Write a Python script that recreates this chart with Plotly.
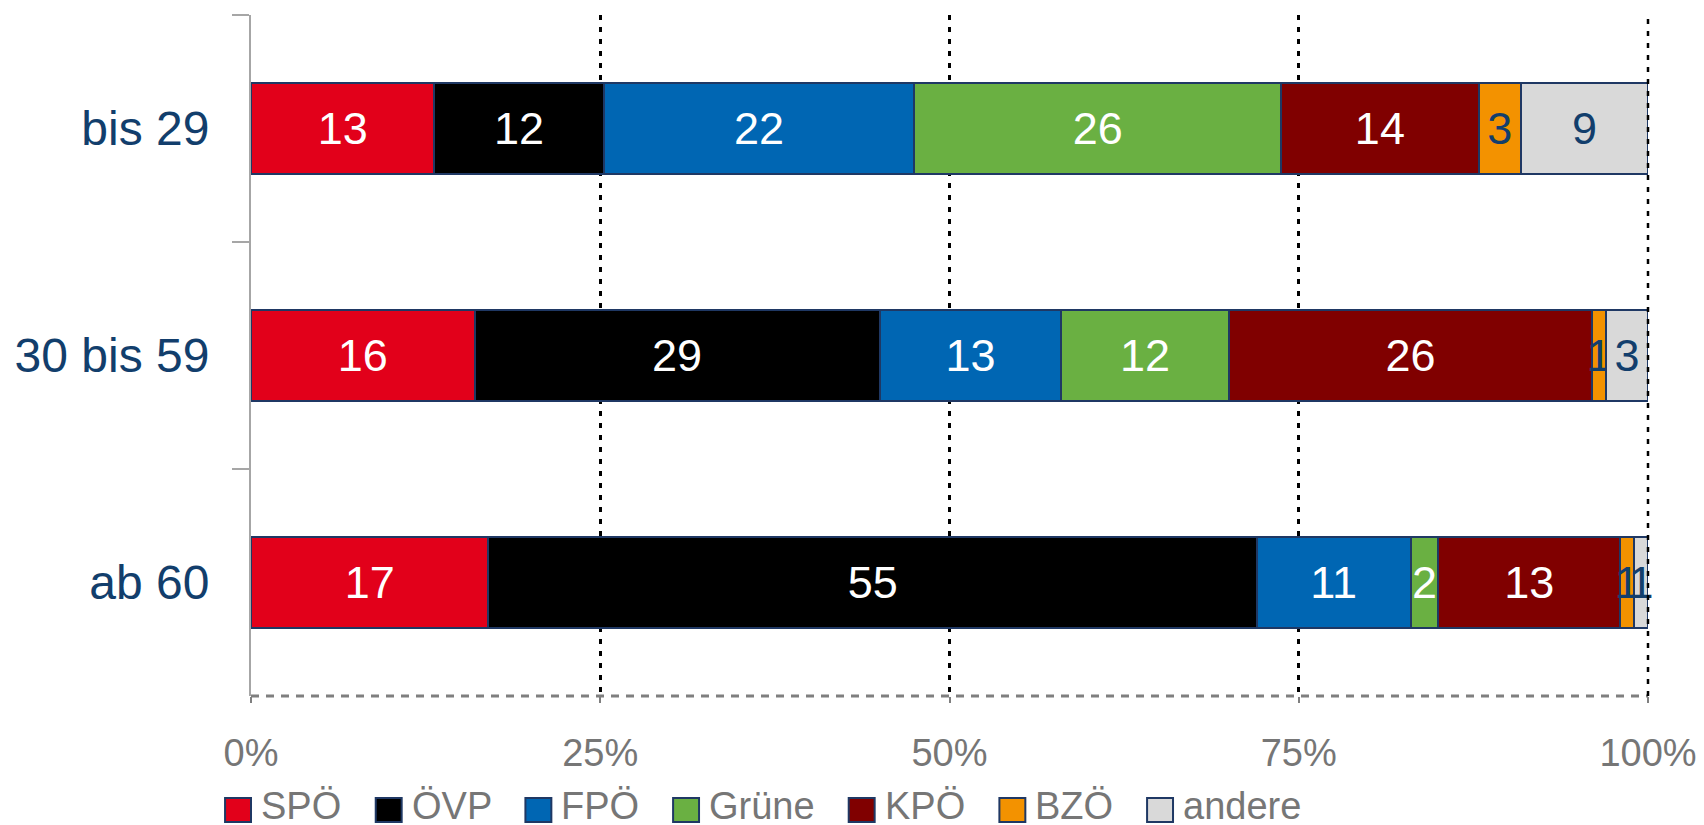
import plotly.graph_objects as go

# Age groups (top to bottom) and party shares in percent
age_groups = ['bis 29', '30 bis 59', 'ab 60']
parties = ['SPÖ', 'ÖVP', 'FPÖ', 'Grüne', 'KPÖ', 'BZÖ', 'andere']

spoe = [13, 16, 17]
oevp = [12, 29, 55]
fpoe = [22, 13, 11]
gruene = [26, 12, 2]
kpoe = [14, 26, 13]
bzoe = [3, 1, 1]
andere = [9, 3, 1]

party_values = [spoe, oevp, fpoe, gruene, kpoe, bzoe, andere]
colors = ['#E2001A', '#000000', '#0066B3', '#6AB042', '#800000', '#F39200', '#D9D9D9']
NAVY = '#123E6C'
label_colors = ['white', 'white', 'white', 'white', 'white', NAVY, NAVY]

x_ticks = [0, 25, 50, 75, 100]
x_ticktext = ['0%', '25%', '50%', '75%', '100%']

FONT = 'Arial, Liberation Sans, sans-serif'
# the page body has an 8px margin, so the figure is a bit smaller than the window
OFF = 8
W, H = 1704 - OFF, 825 - OFF
M_L, M_R, M_T, M_B = 242, 54, 7, 129
PW, PH = W - M_L - M_R, H - M_T - M_B


# page pixel -> paper helpers (used for the hand-drawn legend)
def px_x(px):
    return (px - OFF - M_L) / PW


def px_y(py):
    return (OFF + H - M_B - py) / PH


fig = go.Figure()

for name, vals, col, tcol in zip(parties, party_values, colors, label_colors):
    fig.add_trace(go.Bar(
        y=age_groups,
        x=vals,
        name=name,
        orientation='h',
        marker=dict(color=col, line=dict(color='#1F3864', width=2)),
        text=[str(v) for v in vals],
        textposition='inside',
        insidetextanchor='middle',
        textangle=0,
        textfont=dict(family=FONT, size=45, color=tcol),
        cliponaxis=False,
        showlegend=False,
        hovertemplate=name + ': %{text}<extra></extra>',
    ))

# Legend drawn by hand so the swatches can be large squares
legend_x = [224, 375, 525, 673, 849, 1000, 1148]
shapes = []
annotations = []
for name, col, lx in zip(parties, colors, legend_x):
    shapes.append(dict(
        type='rect', xref='paper', yref='paper',
        x0=px_x(lx), x1=px_x(lx + 26), y0=px_y(822), y1=px_y(798),
        fillcolor=col, line=dict(color='#1F3864', width=2),
    ))
    annotations.append(dict(
        xref='paper', yref='paper', x=px_x(lx + 34), y=px_y(806),
        xanchor='left', yanchor='middle', text=name, showarrow=False,
        font=dict(family=FONT, size=38, color='#767676'),
    ))

# dashed bottom axis line
shapes.append(dict(
    type='line', xref='paper', yref='paper', x0=0, x1=1, y0=0, y1=0,
    line=dict(color='#7F7F7F', width=3, dash='8px,7px'), layer='above',
))
# the 100% gridline sits on the plot edge, where plotly drops it
shapes.append(dict(
    type='line', xref='paper', yref='paper', x0=1, x1=1, y0=0, y1=1,
    line=dict(color='#000000', width=2.5, dash='5px,7px'), layer='above',
))

fig.update_layout(
    barmode='stack',
    barnorm='percent',
    bargap=0.6,
    width=W,
    height=H,
    margin=dict(l=M_L, r=M_R, t=M_T, b=M_B),
    plot_bgcolor='white',
    paper_bgcolor='white',
    showlegend=False,
    uniformtext=dict(minsize=45, mode='show'),
    font=dict(family=FONT),
    shapes=shapes,
    annotations=annotations,
    xaxis=dict(
        range=[0, 100.0001],
        tickvals=x_ticks,
        ticktext=x_ticktext,
        showgrid=True,
        gridcolor='#000000',
        gridwidth=2.5,
        griddash='5px,7px',
        zeroline=False,
        showline=False,
        ticks='outside',
        ticklen=6,
        tickwidth=2,
        tickcolor='#7F7F7F',
        ticklabelstandoff=17,
        tickfont=dict(family=FONT, size=38, color='#767676'),
    ),
    yaxis=dict(
        categoryorder='array',
        categoryarray=age_groups,
        range=[2.5, -0.5],
        showline=True,
        linecolor='#A6A6A6',
        linewidth=2,
        ticks='outside',
        tickson='boundaries',
        ticklen=17,
        tickwidth=2,
        tickcolor='#A6A6A6',
        ticklabelstandoff=30,
        showgrid=False,
        tickfont=dict(family=FONT, size=48, color=NAVY),
    ),
)

fig.write_html('out.html')
